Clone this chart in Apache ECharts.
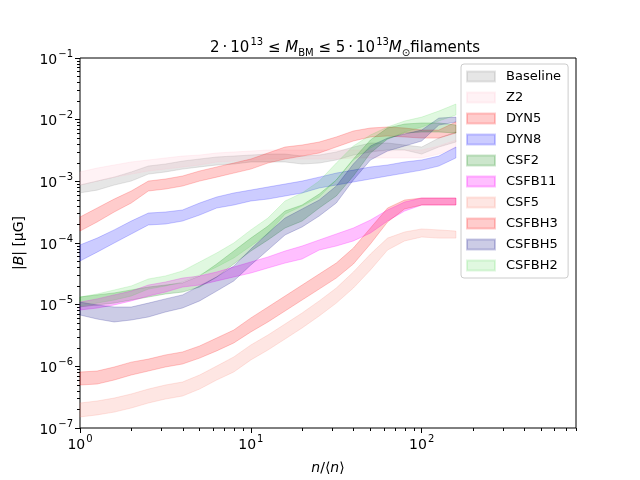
<!DOCTYPE html>
<html>
<head>
<meta charset="utf-8">
<script src="https://cdn.jsdelivr.net/npm/echarts@6/dist/echarts.min.js"></script>
<style>
  html, body { margin: 0; padding: 0; background: #fff; }
  #main { width: 640px; height: 480px; }
</style>
</head>
<body>
<div id="main"></div>
<script>
// density bins n/<n>
var nBins = [1, 1.259, 1.585, 1.995, 2.512, 3.162, 3.981, 5.012, 6.310, 7.943, 10, 12.59, 15.85, 19.95, 25.12, 31.62, 39.81, 50.12, 63.10, 79.43, 100, 125.9, 158.5];

// |B| bands (lower / upper), muG
var baselineLo = [6.5e-4, 7.2e-4, 8.7e-4, 1.01e-3, 1.31e-3, 1.42e-3, 1.58e-3, 1.71e-3, 1.84e-3, 1.91e-3, 2.06e-3, 2.06e-3, 2.06e-3, 1.91e-3, 1.98e-3, 2.22e-3, 2.67e-3, 2.99e-3, 3.22e-3, 3.22e-3, 2.77e-3, 3.6e-3, 4.34e-3];
var baselineHi = [8.7e-4, 1.01e-3, 1.17e-3, 1.42e-3, 1.77e-3, 1.91e-3, 2.13e-3, 2.3e-3, 2.48e-3, 2.57e-3, 2.67e-3, 2.77e-3, 2.77e-3, 2.57e-3, 2.67e-3, 2.99e-3, 3.6e-3, 4.18e-3, 4.18e-3, 3.88e-3, 3.6e-3, 5.03e-3, 6.31e-3];

var z2Lo = [8.7e-4, 1.01e-3, 1.17e-3, 1.31e-3, 1.47e-3, 1.58e-3, 1.71e-3, 1.84e-3, 2.06e-3, 2.13e-3, 2.22e-3, 2.3e-3, 2.3e-3, 2.3e-3, 2.3e-3, 2.3e-3, 2.39e-3, 2.39e-3, 2.39e-3, 2.39e-3, 2.39e-3, 2.77e-3, 3.47e-3];
var z2Hi = [1.42e-3, 1.64e-3, 1.84e-3, 2.06e-3, 2.22e-3, 2.39e-3, 2.57e-3, 2.67e-3, 2.88e-3, 2.99e-3, 3.1e-3, 3.22e-3, 3.22e-3, 3.22e-3, 3.22e-3, 3.22e-3, 3.22e-3, 3.22e-3, 3.1e-3, 3.22e-3, 3.22e-3, 3.74e-3, 4.68e-3];

var dyn5Lo = [1.56e-4, 2.19e-4, 3.18e-4, 4.45e-4, 6.97e-4, 7.5e-4, 8.39e-4, 1.01e-3, 1.17e-3, 1.36e-3, 1.58e-3, 1.98e-3, 2.3e-3, 2.57e-3, 2.88e-3, 3.6e-3, 4.51e-3, 5.24e-3, 5.43e-3, 5.24e-3, 5.03e-3, 5.03e-3, 6.07e-3];
var dyn5Hi = [2.64e-4, 3.69e-4, 5.16e-4, 6.97e-4, 1.01e-3, 1.09e-3, 1.22e-3, 1.47e-3, 1.71e-3, 1.98e-3, 2.3e-3, 2.88e-3, 3.6e-3, 3.88e-3, 4.34e-3, 5.24e-3, 6.55e-3, 7.33e-3, 7.6e-3, 7.33e-3, 6.79e-3, 6.79e-3, 9.16e-3];

var dyn8Lo = [5.1e-5, 7.1e-5, 1.0e-4, 1.4e-4, 1.96e-4, 2.03e-4, 2.27e-4, 2.84e-4, 3.69e-4, 4.13e-4, 4.8e-4, 5.16e-4, 5.78e-4, 6.47e-4, 7.8e-4, 8.71e-4, 9.75e-4, 1.09e-3, 1.22e-3, 1.36e-3, 1.52e-3, 1.77e-3, 2.39e-3];
var dyn8Hi = [9.3e-5, 1.2e-4, 1.63e-4, 2.27e-4, 3.06e-4, 3.18e-4, 3.43e-4, 4.45e-4, 5.57e-4, 6.47e-4, 7.23e-4, 8.09e-4, 9.04e-4, 1.01e-3, 1.17e-3, 1.36e-3, 1.52e-3, 1.71e-3, 1.84e-3, 2.06e-3, 2.22e-3, 2.57e-3, 3.6e-3];

var csf2Lo = [9.2e-6, 9.9e-6, 1.06e-5, 1.19e-5, 1.33e-5, 1.49e-5, 1.6e-5, 1.93e-5, 2.81e-5, 4.56e-5, 7.41e-5, 1.12e-4, 1.75e-4, 2.27e-4, 3.69e-4, 5.78e-4, 1.22e-3, 2.88e-3, 4.85e-3, 6.07e-3, 6.31e-3, 6.31e-3, 6.07e-3];
var csf2Hi = [1.33e-5, 1.44e-5, 1.55e-5, 1.73e-5, 1.93e-5, 2.08e-5, 2.25e-5, 2.92e-5, 4.56e-5, 7.41e-5, 1.2e-4, 1.88e-4, 3.3e-4, 4.13e-4, 6.22e-4, 1.05e-3, 2.3e-3, 4.68e-3, 7.33e-3, 8.49e-3, 8.83e-3, 8.83e-3, 8.18e-3];

var csfb11Lo = [8.2e-6, 8.8e-6, 9.9e-6, 1.15e-5, 1.38e-5, 1.6e-5, 1.93e-5, 2.08e-5, 2.42e-5, 2.81e-5, 3.26e-5, 3.93e-5, 4.73e-5, 5.5e-5, 7.69e-5, 8.93e-5, 1.08e-4, 1.45e-4, 2.27e-4, 3.3e-4, 4.13e-4, 4.13e-4, 4.13e-4];
var csfb11Hi = [1.1e-5, 1.24e-5, 1.44e-5, 1.66e-5, 2.08e-5, 2.33e-5, 2.7e-5, 2.92e-5, 3.39e-5, 4.08e-5, 4.92e-5, 5.93e-5, 7.41e-5, 8.93e-5, 1.12e-4, 1.4e-4, 1.75e-4, 2.36e-4, 3.43e-4, 4.62e-4, 5.36e-4, 5.36e-4, 5.36e-4];

var csf5Lo = [1.51e-7, 1.63e-7, 1.81e-7, 2.11e-7, 2.54e-7, 2.95e-7, 3.3e-7, 4.28e-7, 6.0e-7, 8.09e-7, 1.27e-6, 1.84e-6, 2.77e-6, 4.19e-6, 6.55e-6, 1.06e-5, 1.86e-5, 3.65e-5, 7.69e-5, 1.08e-4, 1.25e-4, 1.2e-4, 1.2e-4];
var csf5Hi = [2.54e-7, 2.74e-7, 3.06e-7, 3.56e-7, 4.28e-7, 4.98e-7, 5.57e-7, 7.23e-7, 1.01e-6, 1.42e-6, 2.22e-6, 3.22e-6, 4.85e-6, 7.33e-6, 1.15e-5, 1.86e-5, 3.39e-5, 6.62e-5, 1.2e-4, 1.51e-4, 1.69e-4, 1.63e-4, 1.56e-4];

var csfbh3Lo = [4.98e-7, 5.16e-7, 6.0e-7, 7.23e-7, 8.39e-7, 9.75e-7, 1.09e-6, 1.36e-6, 1.78e-6, 2.39e-6, 3.61e-6, 5.24e-6, 7.89e-6, 1.19e-5, 1.79e-5, 2.7e-5, 4.56e-5, 9.64e-5, 2.19e-4, 3.56e-4, 4.13e-4, 4.13e-4, 4.13e-4];
var csfbh3Hi = [8.09e-7, 8.39e-7, 9.75e-7, 1.17e-6, 1.31e-6, 1.53e-6, 1.71e-6, 2.14e-6, 2.88e-6, 3.88e-6, 6.09e-6, 9.16e-6, 1.38e-5, 2.08e-5, 3.14e-5, 4.73e-5, 8.29e-5, 1.75e-4, 3.69e-4, 4.98e-4, 5.36e-4, 5.36e-4, 5.36e-4];

var csfbh5Lo = [6.8e-6, 5.85e-6, 5.24e-6, 5.64e-6, 6.31e-6, 7.6e-6, 8.83e-6, 1.15e-5, 1.66e-5, 2.42e-5, 4.4e-5, 7.69e-5, 1.35e-4, 1.82e-4, 2.74e-4, 4.45e-4, 1.05e-3, 2.22e-3, 3.1e-3, 3.74e-3, 4.51e-3, 8.18e-3, 9.16e-3];
var csfbh5Hi = [1.1e-5, 9.86e-6, 9.16e-6, 9.16e-6, 1.06e-5, 1.24e-5, 1.44e-5, 2.01e-5, 2.81e-5, 4.24e-5, 7.98e-5, 1.45e-4, 2.54e-4, 3.56e-4, 4.98e-4, 8.39e-4, 1.91e-3, 3.74e-3, 5.03e-3, 5.85e-3, 6.79e-3, 1.06e-2, 1.1e-2];

var csfbh2Lo = [9.5e-6, 1.06e-5, 1.19e-5, 1.38e-5, 1.79e-5, 2.01e-5, 2.33e-5, 3.03e-5, 4.08e-5, 5.71e-5, 8.93e-5, 1.4e-4, 2.95e-4, 3.98e-4, 5.57e-4, 1.05e-3, 2.22e-3, 3.47e-3, 4.85e-3, 6.31e-3, 7.6e-3, 9.51e-3, 1.19e-2];
var csfbh2Hi = [1.33e-5, 1.49e-5, 1.73e-5, 2.01e-5, 2.61e-5, 2.92e-5, 3.52e-5, 4.92e-5, 6.89e-5, 1.0e-4, 1.63e-4, 2.54e-4, 4.8e-4, 6.47e-4, 1.01e-3, 1.98e-3, 3.74e-3, 5.64e-3, 7.6e-3, 9.51e-3, 1.1e-2, 1.38e-2, 1.79e-2];

// ticks
var xMajor = [1, 10, 100];
var yMajor = [1e-7, 1e-6, 1e-5, 1e-4, 1e-3, 1e-2, 1e-1];
var xMinor = [];
var yMinor = [];
[1, 10, 100].forEach(function (d) {
  for (var m = 2; m <= 9; m++) if (m * d <= 800) xMinor.push(m * d);
});
[1e-7, 1e-6, 1e-5, 1e-4, 1e-3, 1e-2].forEach(function (d) {
  for (var m = 2; m <= 9; m++) yMinor.push(m * d);
});

var FONT = 'DejaVu Sans';

function band(name, lo, hi, color) {
  return {
    name: name,
    type: 'custom',
    silent: true,
    animation: false,
    itemStyle: { color: color, borderColor: color, borderWidth: 1 },
    encode: { x: 0, y: [1, 2] },
    data: nBins.map(function (x, i) { return [x, lo[i], hi[i]]; }),
    renderItem: function (params, api) {
      if (params.dataIndex !== 0) return null;
      var pts = [];
      for (var i = 0; i < nBins.length; i++) pts.push(api.coord([nBins[i], hi[i]]));
      for (var j = nBins.length - 1; j >= 0; j--) pts.push(api.coord([nBins[j], lo[j]]));
      return {
        type: 'polygon',
        shape: { points: pts },
        style: { fill: color, stroke: color, lineWidth: 1 }
      };
    }
  };
}

function powLabel(v) {
  var e = Math.round(Math.log(v) / Math.LN10);
  var s = e < 0 ? '\u2212' + (-e) : '' + e;
  return '{b|10}{sup|' + s + '}';
}

var tickRich = {
  b: { fontSize: 14, fontFamily: FONT, color: '#000', verticalAlign: 'top', padding: [4, 0, 0, 0] },
  sup: { fontSize: 10, fontFamily: FONT, color: '#000', verticalAlign: 'top', padding: [0, 0, 0, 1] }
};

function logAxis(min, max, major, minor, isX) {
  var common = {
    type: 'log',
    logBase: 10,
    min: min,
    max: max,
    splitLine: { show: false },
    axisLine: { show: false }
  };
  var main = Object.assign({}, common, {
    axisTick: { show: true, inside: false, length: 5, customValues: major, lineStyle: { color: '#000', width: 1 } },
    axisLabel: { show: true, customValues: major, formatter: powLabel, rich: tickRich, margin: isX ? 6 : 7 }
  });
  var sub = Object.assign({}, common, {
    axisTick: { show: true, inside: false, length: 3, customValues: minor, lineStyle: { color: '#000', width: 1 } },
    axisLabel: { show: false }
  });
  return [main, sub];
}

var xAxes = logAxis(1, 800, xMajor, xMinor, true);
var yAxes = logAxis(1e-7, 1e-1, yMajor, yMinor, false);
xAxes[0].position = 'bottom';
xAxes[1].position = 'bottom';
yAxes[0].position = 'left';
yAxes[1].position = 'left';

xAxes[0].name = '{it|n}/\u27e8{it|n}\u27e9';
xAxes[0].nameLocation = 'middle';
xAxes[0].nameGap = 33;
xAxes[0].nameTextStyle = {
  fontSize: 14, fontFamily: FONT, color: '#000',
  rich: { it: { fontSize: 14, fontFamily: FONT, fontStyle: 'italic', color: '#000' } }
};

yAxes[0].name = '|{it|B}| [\u03bcG]';
yAxes[0].nameLocation = 'middle';
yAxes[0].nameGap = 54;
yAxes[0].nameTextStyle = {
  fontSize: 14, fontFamily: FONT, color: '#000',
  rich: { it: { fontSize: 14, fontFamily: FONT, fontStyle: 'italic', color: '#000' } }
};

var series = [
  band('Baseline', baselineLo, baselineHi, 'rgba(128,128,128,0.2)'),
  band('Z2', z2Lo, z2Hi, 'rgba(255,192,203,0.2)'),
  band('DYN5', dyn5Lo, dyn5Hi, 'rgba(255,0,0,0.2)'),
  band('DYN8', dyn8Lo, dyn8Hi, 'rgba(0,0,255,0.2)'),
  band('CSF2', csf2Lo, csf2Hi, 'rgba(0,128,0,0.2)'),
  band('CSFB11', csfb11Lo, csfb11Hi, 'rgba(255,0,255,0.25)'),
  band('CSF5', csf5Lo, csf5Hi, 'rgba(250,128,114,0.2)'),
  band('CSFBH3', csfbh3Lo, csfbh3Hi, 'rgba(255,0,0,0.2)'),
  band('CSFBH5', csfbh5Lo, csfbh5Hi, 'rgba(0,0,128,0.2)'),
  band('CSFBH2', csfbh2Lo, csfbh2Hi, 'rgba(50,205,50,0.15)')
];

var chart = echarts.init(document.getElementById('main'), null, { renderer: 'canvas' });
chart.setOption({
  animation: false,
  backgroundColor: '#fff',
  title: {
    text: '{n|2\u2009\u00b7\u200910}{sup|13}{n| \u2264 }{it|M}{sub|BM}{n| \u2264 5\u2009\u00b7\u200910}{sup|13}{it|M}{sub|\u2299}{n|filaments}',
    left: 205,
    top: 32,
    textStyle: {
      fontSize: 15, fontFamily: FONT, color: '#000', fontWeight: 'normal',
      rich: {
        n: { fontSize: 15, fontFamily: FONT, color: '#000', verticalAlign: 'top', padding: [4, 0, 0, 0] },
        it: { fontSize: 15, fontFamily: FONT, color: '#000', fontStyle: 'italic', verticalAlign: 'top', padding: [4, 0, 0, 0] },
        sup: { fontSize: 10, fontFamily: FONT, color: '#000', verticalAlign: 'top', padding: [0, 0, 0, 1] },
        sub: { fontSize: 10, fontFamily: FONT, color: '#000', verticalAlign: 'top', padding: [11, 0, 0, 0] }
      }
    }
  },
  legend: {
    orient: 'vertical',
    left: 461,
    top: 64,
    padding: [6, 7, 6, 5],
    itemGap: 8,
    itemWidth: 28,
    itemHeight: 10,
    icon: 'rect',
    selectedMode: false,
    borderColor: '#cccccc',
    borderWidth: 1,
    borderRadius: 3,
    backgroundColor: 'rgba(255,255,255,0.8)',
    textStyle: { fontSize: 13, fontFamily: FONT, color: '#000', padding: [0, 0, 0, 6] },
    data: series.map(function (s) { return s.name; })
  },
  grid: {
    left: 80, right: 64, top: 58, bottom: 52,
    show: true, borderColor: '#000', borderWidth: 1, backgroundColor: 'transparent',
    containLabel: false
  },
  xAxis: xAxes,
  yAxis: yAxes,
  series: series
});
</script>
</body>
</html>
